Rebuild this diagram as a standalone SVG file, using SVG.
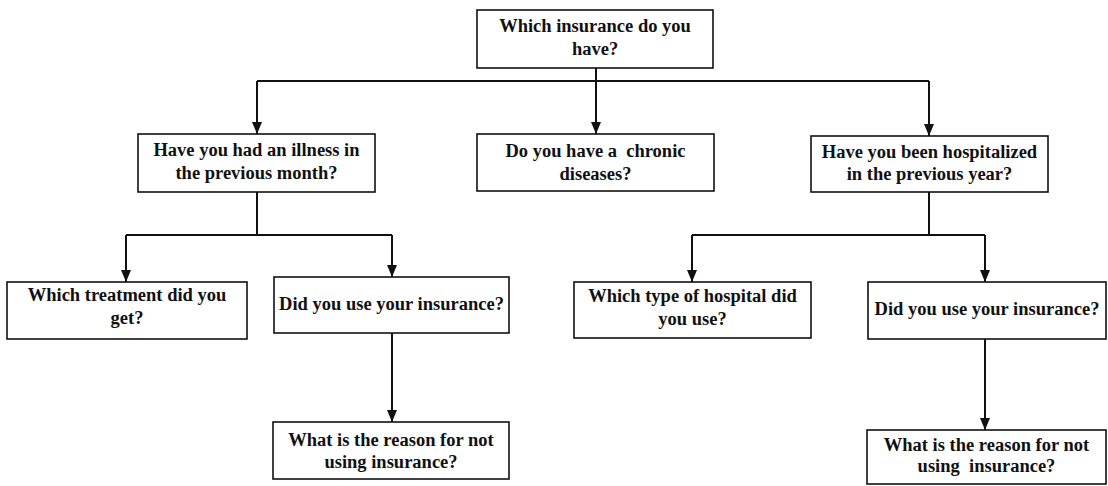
<svg xmlns="http://www.w3.org/2000/svg" width="1108" height="486" viewBox="0 0 1108 486">
  <style>
    .box { fill: #ffffff; stroke: #111111; stroke-width: 1.6; }
    .lbl { font-family: "Liberation Serif", "Times New Roman", serif; font-weight: bold; font-size: 18.5px; fill: #111111; text-anchor: middle; white-space: pre; }
    .wire { fill: none; stroke: #111111; stroke-width: 2; }
  </style>
  <defs>
    <!-- filled head, drawn along +x so orient="auto" points it down the line -->
    <marker id="arrow" markerUnits="userSpaceOnUse" markerWidth="12" markerHeight="10" viewBox="0 0 12 10" refX="12" refY="5" orient="auto">
      <path d="M0 0 L12 5 L0 10 Z" fill="#111111"/>
    </marker>
  </defs>

  <rect width="1108" height="486" fill="#ffffff"/>

  <!-- connectors -->
  <g id="connectors" class="wire">
    <path d="M596 68 V81"/>
    <path d="M257 81 H929"/>
    <path d="M257 81 V134" marker-end="url(#arrow)"/>
    <path d="M596 81 V134" marker-end="url(#arrow)"/>
    <path d="M929 81 V136" marker-end="url(#arrow)"/>

    <path d="M257 192 V235"/>
    <path d="M126 235 H392"/>
    <path d="M126 235 V282" marker-end="url(#arrow)"/>
    <path d="M392 235 V277" marker-end="url(#arrow)"/>
    <path d="M392 333 V422" marker-end="url(#arrow)"/>

    <path d="M929 192 V235"/>
    <path d="M692 235 H985"/>
    <path d="M692 235 V282" marker-end="url(#arrow)"/>
    <path d="M985 235 V282" marker-end="url(#arrow)"/>
    <path d="M985 339 V430" marker-end="url(#arrow)"/>
  </g>

  <g id="insurance">
    <rect class="box" x="477" y="10" width="236" height="58"/>
    <text class="lbl" x="595" y="32">Which insurance do you</text>
    <text class="lbl" x="595" y="55">have?</text>
  </g>

  <g id="illness">
    <rect class="box" x="138" y="134" width="237" height="58"/>
    <text class="lbl" x="256.5" y="156">Have you had an illness in</text>
    <text class="lbl" x="256.5" y="179">the previous month?</text>
  </g>

  <g id="chronic">
    <rect class="box" x="477" y="134" width="237" height="57"/>
    <text class="lbl" x="595.5" y="157" xml:space="preserve">Do you have a  chronic</text>
    <text class="lbl" x="595.5" y="180">diseases?</text>
  </g>

  <g id="hospitalized">
    <rect class="box" x="811" y="136" width="237" height="56"/>
    <text class="lbl" x="929.5" y="158">Have you been hospitalized</text>
    <text class="lbl" x="929.5" y="180">in the previous year?</text>
  </g>

  <g id="treatment">
    <rect class="box" x="7" y="282" width="240" height="57"/>
    <text class="lbl" x="127" y="301">Which treatment did you</text>
    <text class="lbl" x="127" y="324">get?</text>
  </g>

  <g id="use-insurance-1">
    <rect class="box" x="274" y="277" width="235" height="56"/>
    <text class="lbl" x="391.5" y="310">Did you use your insurance?</text>
  </g>

  <g id="reason-1">
    <rect class="box" x="273" y="422" width="236" height="57"/>
    <text class="lbl" x="391" y="446">What is the reason for not</text>
    <text class="lbl" x="391" y="468">using insurance?</text>
  </g>

  <g id="hospital-type">
    <rect class="box" x="574" y="282" width="237" height="56"/>
    <text class="lbl" x="692.5" y="302">Which type of hospital did</text>
    <text class="lbl" x="692.5" y="325">you use?</text>
  </g>

  <g id="use-insurance-2">
    <rect class="box" x="868" y="282" width="238" height="57"/>
    <text class="lbl" x="987" y="315">Did you use your insurance?</text>
  </g>

  <g id="reason-2">
    <rect class="box" x="867" y="430" width="239" height="54"/>
    <text class="lbl" x="986.5" y="451">What is the reason for not</text>
    <text class="lbl" x="986.5" y="472" xml:space="preserve">using  insurance?</text>
  </g>
</svg>
